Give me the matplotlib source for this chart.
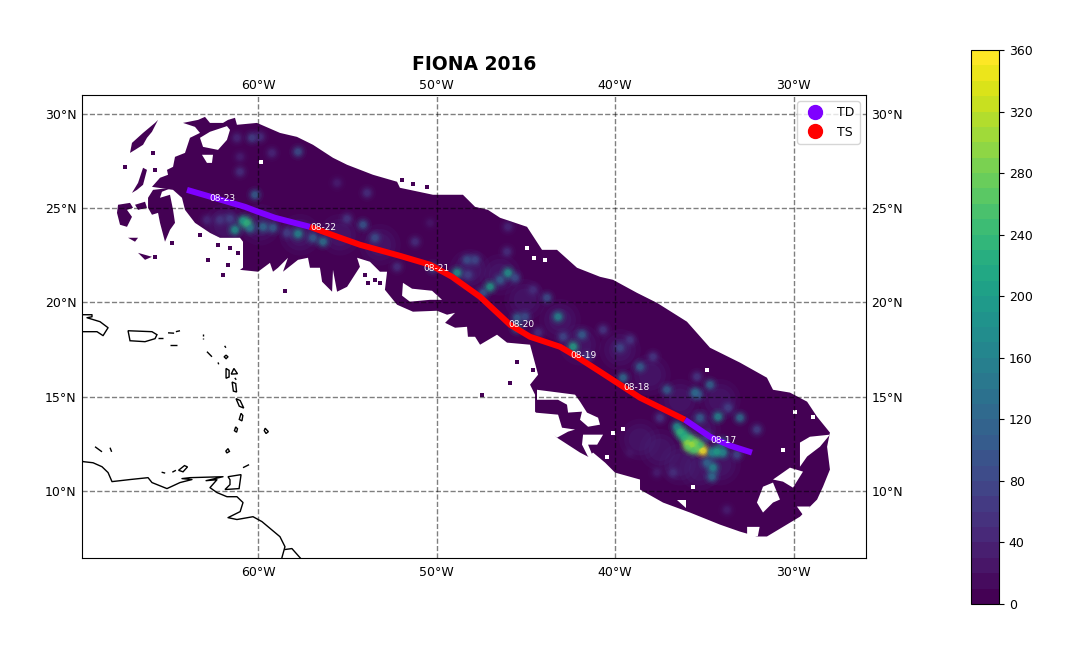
import numpy as np
import matplotlib
matplotlib.use('Agg')
import matplotlib.pyplot as plt
from matplotlib.colors import BoundaryNorm
from matplotlib.cm import ScalarMappable

# ---------- data (degrees lon / lat, rain in colourbar units) ----------
title = 'FIONA 2016'
levels = list(range(0, 370, 10))
cbar_ticks = list(range(0, 400, 40))
lon_ticks = [-60, -50, -40, -30]
lat_ticks = [10, 15, 20, 25, 30]

track_td_west = [(-63.98, 25.97), (-60.73, 25.07), (-60.0, 24.81), (-59.05, 24.49), (-57.09, 24.01)]
track_ts = [(-57.09, 24.01), (-55.69, 23.53), (-54.29, 23.06), (-52.04, 22.47), (-50.36, 22.0),
            (-49.13, 21.36), (-47.56, 20.30), (-45.88, 18.82), (-44.76, 18.18), (-43.08, 17.65),
            (-42.24, 17.18), (-40.84, 16.33), (-38.6, 14.95), (-36.08, 13.78)]
track_td_east = [(-36.08, 13.78), (-34.68, 12.88), (-33.56, 12.41), (-32.33, 12.04)]

date_names = ['08-23', '08-22', '08-21', '08-20', '08-19', '08-18', '08-17']
date_lon = [-62.02, -56.36, -50.03, -45.27, -41.74, -38.82, -33.95]
date_lat = [25.50, 23.96, 21.79, 18.82, 17.18, 15.49, 12.67]

swath_outline = [
    (-61.18, 29.42), (-60.06, 29.52), (-58.77, 28.99), (-57.82, 28.78), (-56.92, 28.36),
    (-55.80, 27.67), (-55.01, 27.30), (-53.56, 26.77), (-52.21, 26.40), (-52.05, 26.08), (-50.20, 25.71),
    (-48.52, 25.71), (-47.84, 25.07), (-47.12, 24.91), (-46.44, 24.49), (-44.93, 24.01), (-44.09, 22.79),
    (-43.25, 22.79), (-42.13, 21.84), (-40.84, 21.36), (-40.11, 21.20), (-38.77, 20.51), (-37.65, 19.98),
    (-35.97, 18.98), (-34.68, 17.60), (-33.00, 16.81), (-31.49, 16.01), (-31.15, 15.37), (-30.20, 15.22),
    (-29.24, 14.74), (-28.68, 13.94), (-27.96, 13.10), (-28.12, 12.35), (-27.96, 11.14), (-28.35, 10.23),
    (-28.68, 9.55), (-29.64, 8.64), (-31.49, 7.59), (-32.05, 7.59), (-33.00, 7.85), (-34.12, 8.22),
    (-35.80, 8.86), (-37.31, 9.39), (-38.60, 10.08), (-38.60, 10.61), (-40.0, 10.98), (-40.56, 11.51),
    (-41.23, 12.04), (-41.51, 11.82), (-41.96, 12.04), (-43.25, 12.83), (-44.48, 14.21), (-44.48, 15.11),
    (-44.76, 15.64), (-44.31, 16.17), (-44.76, 17.76), (-46.05, 17.87), (-46.61, 18.29), (-47.56, 17.76),
    (-47.84, 18.18), (-48.24, 18.18), (-48.29, 18.71), (-48.96, 18.66), (-49.52, 18.92), (-48.96, 19.45),
    (-49.41, 19.35), (-49.97, 19.56), (-51.32, 19.51), (-52.21, 19.88), (-52.89, 20.67), (-52.77, 21.63),
    (-53.17, 21.63), (-53.73, 22.16), (-54.45, 22.37), (-54.29, 21.89), (-55.01, 20.83), (-55.57, 20.57),
    (-55.80, 21.73), (-55.85, 20.57), (-56.41, 21.1), (-56.53, 21.84), (-57.09, 21.84), (-57.2, 22.37),
    (-57.76, 22.26), (-58.6, 21.63), (-58.32, 22.37), (-58.88, 21.84), (-59.16, 21.63), (-59.33, 22.1),
    (-60.0, 21.63), (-61.01, 21.73), (-60.84, 21.84), (-60.84, 23.22), (-61.01, 23.43), (-62.13, 23.43),
    (-62.69, 23.69), (-63.53, 24.22), (-64.09, 24.91), (-64.26, 25.55), (-64.76, 25.97), (-65.94, 26.13),
    (-65.49, 26.61), (-65.04, 26.77), (-65.1, 27.03), (-64.76, 27.19), (-64.65, 27.72), (-64.09, 27.93),
    (-63.81, 28.73), (-63.25, 28.99), (-63.53, 29.31), (-64.2, 29.52), (-63.36, 29.68), (-62.97, 29.84),
    (-62.69, 29.52), (-61.96, 29.52), (-61.68, 29.68), (-61.29, 29.79),
]
swath_fragments = [
    [(-67.17, 27.93), (-67.06, 28.46), (-66.44, 28.99), (-65.77, 29.52), (-65.6, 29.68), (-65.94, 29.05),
     (-66.22, 28.73), (-66.44, 28.36), (-66.89, 28.09)],
    [(-67.06, 25.81), (-66.72, 26.34), (-66.44, 27.14), (-66.22, 27.03), (-66.44, 26.24), (-66.78, 25.97)],
    [(-67.84, 25.18), (-67.17, 25.28), (-67.0, 25.02), (-67.34, 24.91), (-67.06, 24.54), (-67.34, 24.01),
     (-67.73, 24.12), (-67.9, 24.75)],
    [(-66.89, 25.18), (-66.33, 25.34), (-66.22, 25.02), (-66.72, 24.91)],
    [(-66.16, 25.55), (-65.88, 25.97), (-64.82, 26.08), (-65.38, 25.87), (-65.49, 25.55), (-64.93, 25.71),
     (-64.76, 24.91), (-64.65, 24.22), (-64.93, 23.85), (-65.21, 23.22), (-65.49, 24.22), (-65.6, 24.75),
     (-65.94, 24.65), (-66.16, 25.02)],
    [(-67.28, 23.43), (-66.72, 23.43), (-66.89, 23.22)],
    [(-66.72, 22.63), (-65.94, 22.42), (-66.33, 22.26)],
]
swath_holes = [
    [(-63.25, 28.73), (-62.69, 29.05), (-61.74, 29.35), (-61.57, 29.15), (-61.74, 28.62), (-62.24, 28.09), (-63.08, 28.25)],
    [(-63.14, 27.83), (-62.52, 27.83), (-62.58, 27.4), (-62.86, 27.4)],
    [(-44.37, 15.37), (-42.24, 15.11), (-41.96, 14.74), (-41.57, 14.16), (-40.95, 13.89), (-40.84, 13.52),
     (-41.51, 13.41), (-41.96, 13.78), (-41.85, 14.21), (-42.63, 14.16), (-42.69, 14.58), (-43.19, 14.84),
     (-43.92, 14.84), (-44.37, 14.84)],
    [(-44.48, 14.16), (-43.19, 14.05), (-42.97, 13.36), (-42.24, 13.26), (-42.63, 13.15), (-43.25, 12.83), (-43.92, 13.41)],
    [(-41.79, 12.99), (-40.67, 12.99), (-41.0, 12.46), (-41.51, 12.46), (-41.23, 11.82), (-41.51, 11.82), (-41.85, 12.46)],
    [(-51.88, 21.04), (-51.37, 20.73), (-50.25, 20.62), (-49.69, 20.14), (-50.36, 20.14), (-51.49, 20.04), (-51.93, 20.36)],
    [(-32.05, 9.39), (-31.71, 10.23), (-31.15, 10.45), (-30.76, 9.55), (-31.15, 9.39), (-31.71, 8.86)],
    [(-31.15, 10.61), (-30.2, 11.24), (-29.47, 11.03), (-30.03, 10.18), (-30.59, 10.5)],
    [(-29.64, 12.57), (-29.08, 12.88), (-27.96, 12.99), (-28.52, 12.35), (-29.24, 11.83), (-29.64, 11.29)],
    [(-29.81, 9.18), (-29.08, 9.18), (-29.4, 8.64)],
    [(-32.6, 8.1), (-31.9, 8.1), (-32.0, 7.6), (-32.6, 7.6)],
    [(-36.5, 9.55), (-36.0, 9.55), (-36.0, 9.1)],
]
speck_dark_lon = [-65.88, -67.45, -65.77, -65.77, -62.24, -63.25, -64.82, -61.57, -62.8, -61.68, -61.12, -61.96,
                  -58.49, -53.45, -53.84, -53.17, -54.0, -51.93, -51.32, -50.53, -45.49, -44.59, -45.88, -47.45, -43.6]
speck_dark_lat = [27.93, 27.19, 27.03, 22.42, 23.06, 23.59, 23.16, 22.9, 22.26, 22.0, 22.63, 21.47,
                  20.62, 21.2, 21.04, 21.04, 21.47, 26.5, 26.29, 26.13, 16.86, 16.43, 15.75, 15.11, 13.65]
speck_white_lon = [-59.83, -43.9, -44.93, -44.54, -34.85, -35.63, -40.11, -39.55, -40.45, -29.9, -28.9, -30.6]
speck_white_lat = [27.46, 22.26, 22.9, 22.37, 16.43, 10.23, 13.1, 13.31, 11.82, 14.2, 13.9, 12.2]

haze_lon = [-61.85, -59.89, -57.65, -55.41, -53.17, -48.12, -46.44, -45.04, -43.08, -41.96,
            -39.72, -38.04, -36.36, -35.24, -36.36, -35.24, -34.12, -37.48, -38.6, -34.12]
haze_lat = [24.12, 24.12, 23.59, 23.59, 23.06, 21.73, 21.47, 20.14, 19.08, 17.76,
            17.49, 16.17, 14.84, 13.26, 11.4, 11.14, 11.4, 12.19, 12.73, 14.84]
haze_val = [40] * 20

rain_cells = [
    (-60.34, 28.73, 70), (-61.18, 28.73, 45), (-59.89, 28.78, 50), (-57.76, 27.99, 90), (-59.22, 27.93, 40),
    (-61.01, 26.93, 50), (-61.01, 27.72, 35), (-60.17, 25.71, 110), (-55.57, 26.34, 30), (-53.89, 25.81, 50),
    (-59.72, 24.01, 130), (-59.16, 23.96, 110), (-61.29, 23.85, 190), (-60.62, 24.22, 230), (-60.84, 24.33, 200),
    (-60.45, 23.96, 150), (-57.76, 23.64, 170), (-56.36, 23.22, 140), (-56.92, 23.43, 110), (-54.12, 24.12, 100),
    (-53.45, 23.43, 90), (-55.01, 24.44, 60), (-62.13, 24.38, 60), (-61.57, 24.44, 70), (-62.86, 24.38, 40),
    (-58.38, 23.69, 70), (-52.21, 21.89, 50), (-50.2, 21.84, 90), (-48.85, 21.57, 190), (-48.29, 22.26, 90),
    (-47.84, 22.26, 80), (-48.24, 21.47, 70), (-46.0, 21.57, 190), (-47.0, 20.83, 200), (-46.44, 21.2, 110),
    (-45.6, 21.31, 90), (-47.4, 20.51, 100), (-46.05, 22.69, 55), (-46.0, 24.01, 45), (-51.2, 23.22, 50),
    (-50.36, 24.22, 25), (-43.81, 20.25, 90), (-44.59, 20.67, 50), (-43.19, 19.24, 170), (-45.49, 19.19, 110),
    (-45.04, 19.24, 90), (-45.49, 18.66, 130), (-44.31, 18.4, 50), (-42.35, 17.65, 210), (-41.85, 18.29, 110),
    (-42.91, 18.18, 80), (-40.67, 18.55, 60), (-41.57, 17.12, 60), (-38.6, 16.59, 110), (-39.16, 18.02, 60),
    (-39.72, 17.6, 80), (-37.87, 17.12, 60), (-39.55, 16.01, 130), (-37.09, 15.37, 115), (-35.41, 16.06, 60),
    (-35.52, 15.22, 130), (-34.68, 15.64, 120), (-35.35, 15.11, 100), (-34.23, 13.94, 170), (-33.0, 13.89, 130),
    (-33.67, 14.42, 70), (-32.05, 13.26, 70), (-35.24, 13.89, 110), (-37.48, 13.89, 60), (-36.53, 13.41, 180),
    (-36.36, 13.15, 230), (-36.08, 12.83, 230), (-35.69, 12.46, 300), (-35.91, 12.57, 290), (-35.41, 12.3, 270),
    (-35.24, 12.41, 240), (-35.07, 12.14, 350), (-34.29, 12.09, 200), (-33.95, 12.04, 170), (-34.57, 12.04, 170),
    (-34.51, 11.24, 170), (-34.85, 11.5, 120), (-34.57, 10.76, 130), (-33.17, 11.93, 80), (-34.85, 12.88, 80),
    (-34.0, 12.57, 140), (-36.75, 10.98, 50), (-37.65, 10.98, 30), (-33.73, 9.0, 30), (-39.16, 12.04, 25),
    (-36.2, 13.0, 210), (-35.8, 12.75, 240), (-35.5, 12.55, 270), (-35.9, 12.35, 260), (-35.6, 12.2, 250),
]

coast_lines = [
    [(-70.2, 19.35), (-69.3, 19.35), (-69.3, 19.24), (-69.58, 19.19), (-68.85, 18.98), (-68.4, 18.66),
     (-68.68, 18.24), (-69.02, 18.45), (-70.2, 18.45)],
    [(-70.2, 12.0), (-69.8, 11.56), (-69.24, 11.5), (-68.74, 11.29), (-68.4, 10.98), (-68.18, 10.5), (-67.17, 10.61),
     (-66.16, 10.71), (-65.94, 10.45), (-65.1, 10.13), (-64.37, 10.45), (-63.7, 10.61), (-64.26, 10.66),
     (-63.81, 10.71), (-61.96, 10.76), (-62.91, 10.55), (-62.3, 10.6), (-62.69, 10.18), (-62.3, 9.92), (-61.74, 9.7),
     (-61.18, 9.7), (-60.84, 9.39), (-61.0, 8.91), (-61.68, 8.59), (-61.18, 8.49), (-60.28, 8.64), (-59.78, 8.38),
     (-58.77, 7.58), (-58.49, 7.05), (-58.66, 6.47), (-58.7, 6.2)],
    [(-58.49, 6.9), (-58.1, 6.95), (-57.65, 6.47), (-57.4, 6.2)],
]
island_rings = [
    [(-67.28, 18.5), (-65.94, 18.45), (-65.66, 18.29), (-65.77, 18.08), (-66.33, 17.92), (-67.17, 17.97)],
    [(-64.93, 17.76), (-64.54, 17.76)],
    [(-65.6, 18.13), (-65.3, 18.13)],
    [(-65.04, 18.39), (-64.7, 18.37)],
    [(-64.6, 18.45), (-64.37, 18.5)],
    [(-63.08, 18.33), (-63.08, 18.22)],
    [(-63.08, 18.12), (-63.08, 18.05)],
    [(-61.87, 17.7), (-61.8, 17.6)],
    [(-61.9, 17.12), (-61.79, 17.2), (-61.68, 17.12), (-61.79, 17.02)],
    [(-62.86, 17.39), (-62.58, 17.12)],
    [(-62.24, 16.82), (-62.2, 16.72)],
    [(-61.79, 16.5), (-61.62, 16.4), (-61.62, 16.05), (-61.79, 15.98)],
    [(-61.5, 16.2), (-61.35, 16.5), (-61.15, 16.22)],
    [(-61.3, 16.0), (-61.22, 15.9)],
    [(-61.45, 15.78), (-61.25, 15.7), (-61.2, 15.25), (-61.38, 15.3)],
    [(-61.23, 14.9), (-61.0, 14.8), (-60.8, 14.4), (-61.05, 14.5)],
    [(-60.95, 14.12), (-60.85, 14.0), (-60.9, 13.72), (-61.05, 13.8)],
    [(-61.25, 13.4), (-61.15, 13.3), (-61.2, 13.12), (-61.32, 13.2)],
    [(-59.6, 13.33), (-59.42, 13.15), (-59.55, 13.05), (-59.65, 13.2)],
    [(-61.68, 12.25), (-61.6, 12.1), (-61.75, 12.02), (-61.8, 12.12)],
    [(-60.84, 11.24), (-60.5, 11.4)],
    [(-61.68, 10.76), (-60.95, 10.87), (-61.06, 10.13), (-61.85, 10.08), (-61.57, 10.34), (-61.57, 10.6)],
    [(-69.13, 12.35), (-68.74, 12.08)],
    [(-68.29, 12.3), (-68.2, 12.08)],
    [(-64.45, 11.1), (-64.2, 11.02), (-63.95, 11.28), (-64.12, 11.35)],
    [(-64.8, 11.0), (-64.6, 11.1)],
    [(-65.4, 11.0), (-65.2, 10.95)],
]

# ---------- figure ----------
W, H = 1076, 657
fig = plt.figure(figsize=(W / 100, H / 100), dpi=100)
ax = fig.add_axes([82 / W, 1 - 558 / H, 784 / W, 463 / H])
ax.set_xlim(-69.86, -25.94)
ax.set_ylim(6.45, 31.0)

cmap = plt.get_cmap('viridis', len(levels) - 1)
norm = BoundaryNorm(levels, len(levels) - 1)
base = cmap(norm(5))

patch = ax.fill(*zip(*swath_outline), color=base, lw=0, zorder=1)[0]
for frag in swath_fragments:
    ax.fill(*zip(*frag), color=base, lw=0, zorder=1)
ax.scatter(speck_dark_lon, speck_dark_lat, s=7, marker='s', color=base, lw=0, zorder=1)

for size, alpha, z in [(900, 0.14, 1.05), (520, 0.2, 1.06), (260, 0.22, 1.07)]:
    col = ax.scatter(haze_lon, haze_lat, c=haze_val, s=size, cmap=cmap, norm=norm, alpha=alpha, lw=0, zorder=z)
    col.set_clip_path(patch)

cells = sorted(rain_cells, key=lambda c: c[2])
cell_lon, cell_lat, cell_val = zip(*cells)
passes = [(170, 0.09, 1.2), (105, 0.14, 1.21), (65, 0.22, 1.22), (36, 0.35, 1.23), (16, 0.5, 1.24)]
for size, alpha, z in passes:
    c = ax.scatter(cell_lon, cell_lat, c=cell_val, s=size, cmap=cmap, norm=norm, alpha=alpha, lw=0, zorder=z)
    c.set_clip_path(patch)

for hole in swath_holes:
    ax.fill(*zip(*hole), color='white', lw=0, zorder=1.6)
ax.scatter(speck_white_lon, speck_white_lat, s=10, marker='s', color='white', lw=0, zorder=1.6)

for line in coast_lines:
    ax.plot(*zip(*line), color='black', lw=1, zorder=1.8)
for ring in island_rings:
    ax.fill(*zip(*ring), facecolor='none', edgecolor='black', lw=1, zorder=1.8)

td_color, ts_color = '#7f00ff', '#ff0000'
ax.plot(*zip(*track_td_west), color=td_color, lw=4.3, zorder=5, solid_capstyle='butt')
ax.plot(*zip(*track_ts), color=ts_color, lw=4.3, zorder=5, solid_capstyle='butt')
ax.plot(*zip(*track_td_east), color=td_color, lw=4.3, zorder=5, solid_capstyle='butt')
for name, x, y in zip(date_names, date_lon, date_lat):
    ax.text(x, y, name, color='white', fontsize=6.5, ha='center', va='center', zorder=6)

ax.plot([], [], 'o', color=td_color, ms=10, ls='', label='TD')
ax.plot([], [], 'o', color=ts_color, ms=10, ls='', label='TS')
leg = ax.legend(loc='upper right', numpoints=1, fontsize=9)
leg.set_zorder(7)

lon_labels = [f'{abs(v)}°W' for v in lon_ticks]
ax.set_xticks(lon_ticks)
ax.set_xticklabels(lon_labels)
ax.set_yticks(lat_ticks)
ax.set_yticklabels([f'{v}°N' for v in lat_ticks])
ax.tick_params(axis='x', length=0, pad=6, labelsize=9)
ax.tick_params(axis='y', length=0, pad=4, labelsize=9, right=True, labelright=True)
sec = ax.secondary_xaxis('top')
sec.set_xticks(lon_ticks)
sec.set_xticklabels(lon_labels)
sec.tick_params(length=0, pad=2.5, labelsize=9)
sec.spines['top'].set_visible(False)
ax.set_axisbelow(False)
ax.grid(True, color='black', alpha=0.5, ls='--', lw=1)
ax.set_title(title, fontsize=13.5, fontweight='bold', y=1.0, pad=18)

cax = fig.add_axes([971 / W, 1 - 604 / H, 28 / W, 554 / H])
cb = fig.colorbar(ScalarMappable(norm=norm, cmap=cmap), cax=cax, ticks=cbar_ticks)
cb.minorticks_off()
cb.ax.tick_params(labelsize=9)

fig.savefig('out.png', dpi=100)
